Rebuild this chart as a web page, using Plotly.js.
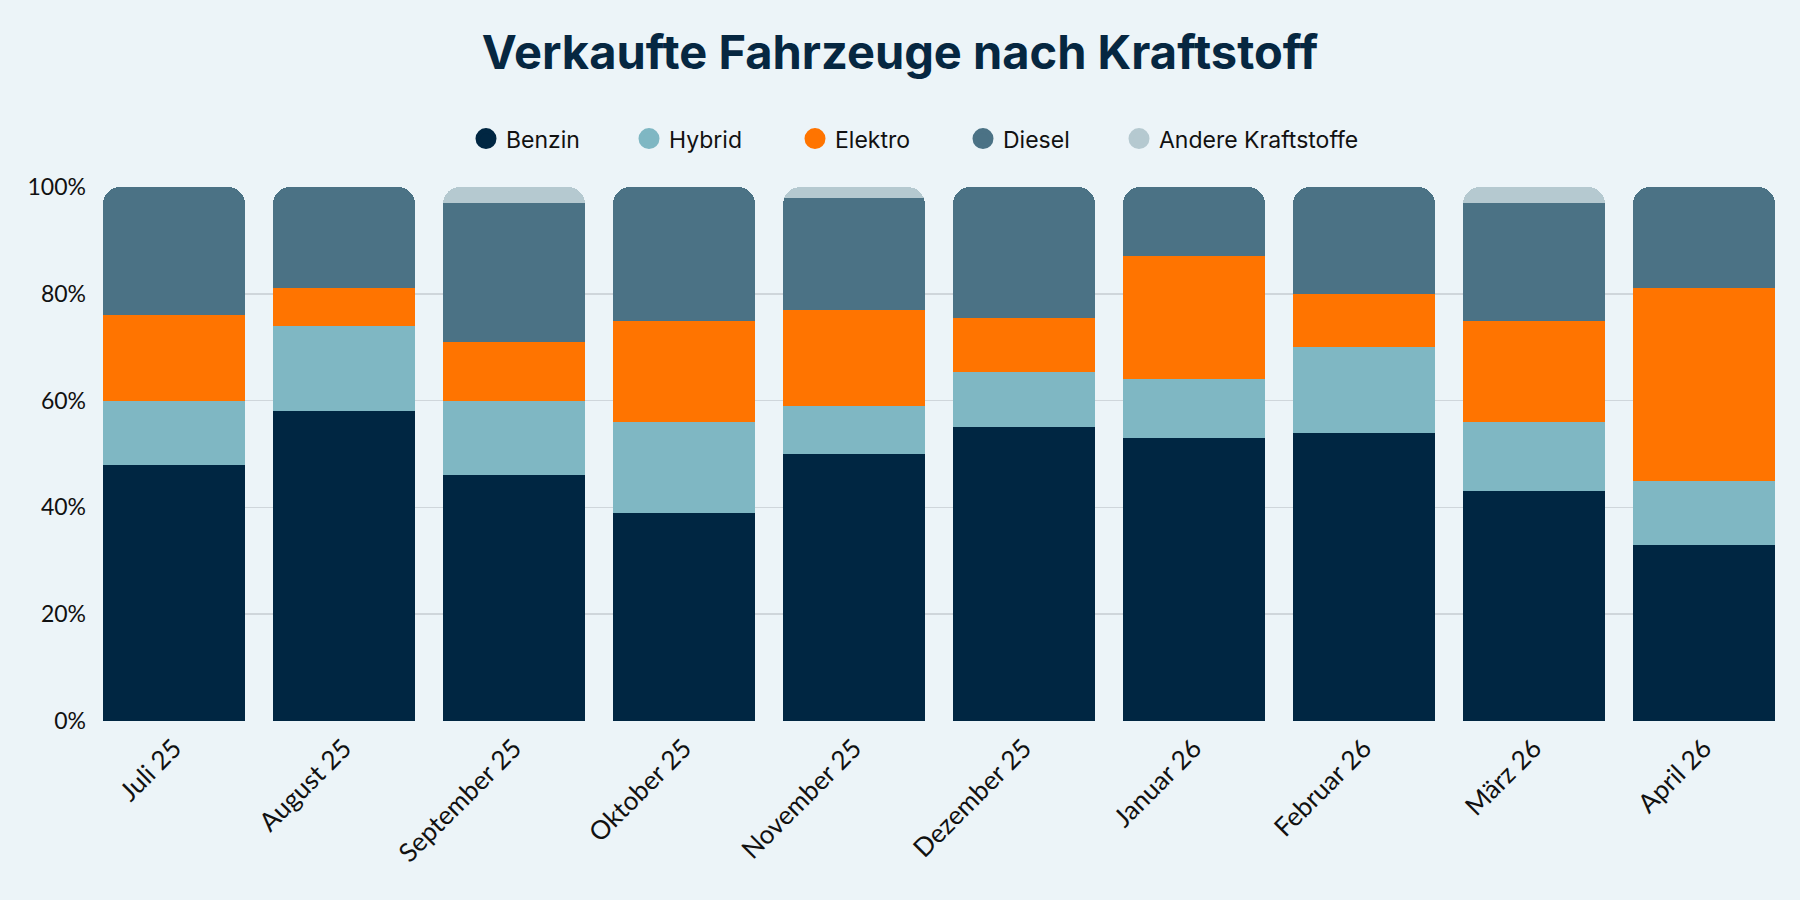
<!DOCTYPE html>
<html>
<head>
<meta charset="utf-8">
<script src="https://cdn.plot.ly/plotly-3.0.1.min.js"></script>
<style>html,body{margin:0;padding:0;background:#ecf4f8;}#chart{width:1800px;height:900px;}</style>
</head>
<body>
<div id="chart"></div>
<script>
const months = ["Juli 25","August 25","September 25","Oktober 25","November 25","Dezember 25","Januar 26","Februar 26","März 26","April 26"];
const benzin = [48, 58, 46, 39, 50, 55, 53, 54, 43, 33];
const hybrid = [12, 16, 14, 17, 9, 10.4, 11, 16, 13, 12];
const elektro = [16, 7, 11, 19, 18, 10.1, 23, 10, 19, 36];
const diesel = [24, 19, 26, 25, 21, 24.5, 13, 20, 22, 19];
const andere = [null, null, 3, null, 2, null, null, null, 3, null];
const yTicks = [0, 20, 40, 60, 80, 100];
const yTickText = ["0%", "20%", "40%", "60%", "80%", "100%"];

const series = [
  {name: "Benzin", y: benzin, color: "#002642"},
  {name: "Hybrid", y: hybrid, color: "#7fb7c3"},
  {name: "Elektro", y: elektro, color: "#ff7400"},
  {name: "Diesel", y: diesel, color: "#4b7285"},
  {name: "Andere Kraftstoffe", y: andere, color: "#b5c9d0"}
];
// legend circle centres (px, container)
const legendCentres = [486, 649, 815, 983, 1139];

const font = "Lato, 'Open Sans', sans-serif";
const titleFont = "Inter, Lato, sans-serif";

const traces = [];
series.forEach(s => {
  traces.push({
    type: "bar", x: months, y: s.y, name: s.name,
    marker: {color: s.color, line: {width: 0}},
    showlegend: false, legendgroup: s.name, hoverinfo: "x+y+name"
  });
});
series.forEach((s, i) => {
  traces.push({
    type: "scatter", mode: "markers", x: [null], y: [null], name: s.name,
    legendgroup: s.name, legend: i === 0 ? "legend" : "legend" + (i + 1),
    marker: {symbol: "circle", size: 16, color: s.color, line: {color: s.color, width: 5}}
  });
});

const layout = {
  width: 1800, height: 900,
  paper_bgcolor: "#ecf4f8", plot_bgcolor: "#ecf4f8",
  margin: {l: 103, r: 25, t: 187, b: 179},
  barmode: "stack", bargap: 0.165, barcornerradius: 17,
  title: {text: "<b>Verkaufte Fahrzeuge nach Kraftstoff</b>", x: 0.5, xref: "container",
          y: 0.942, yref: "container", yanchor: "middle",
          font: {family: titleFont, size: 47, color: "#062741"}},
  xaxis: {type: "category", range: [-0.4175, 9.4175], tickangle: -45, showgrid: false,
          showline: false, zeroline: false, ticks: "", ticklabelstandoff: 6,
          tickfont: {family: font, size: 26, color: "#111"}},
  yaxis: {range: [0, 100], tickvals: yTicks, ticktext: yTickText, showgrid: true,
          gridcolor: "#cfd6db", gridwidth: 1.5, zeroline: false, showline: false, ticks: "",
          ticklabelstandoff: 16,
          tickfont: {family: font, size: 23, color: "#111"}},
  showlegend: true
};
legendCentres.forEach((c, i) => {
  layout[i === 0 ? "legend" : "legend" + (i + 1)] = {
    orientation: "h", xref: "container", x: (c - 20) / 1800, xanchor: "left",
    yref: "container", y: 0.846, yanchor: "middle",
    font: {family: titleFont, size: 23, color: "#111"}, bgcolor: "rgba(0,0,0,0)",
    borderwidth: 0, itemclick: false, itemdoubleclick: false
  };
});

Plotly.newPlot("chart", traces, layout, {displayModeBar: false, staticPlot: true});
</script>
</body>
</html>
